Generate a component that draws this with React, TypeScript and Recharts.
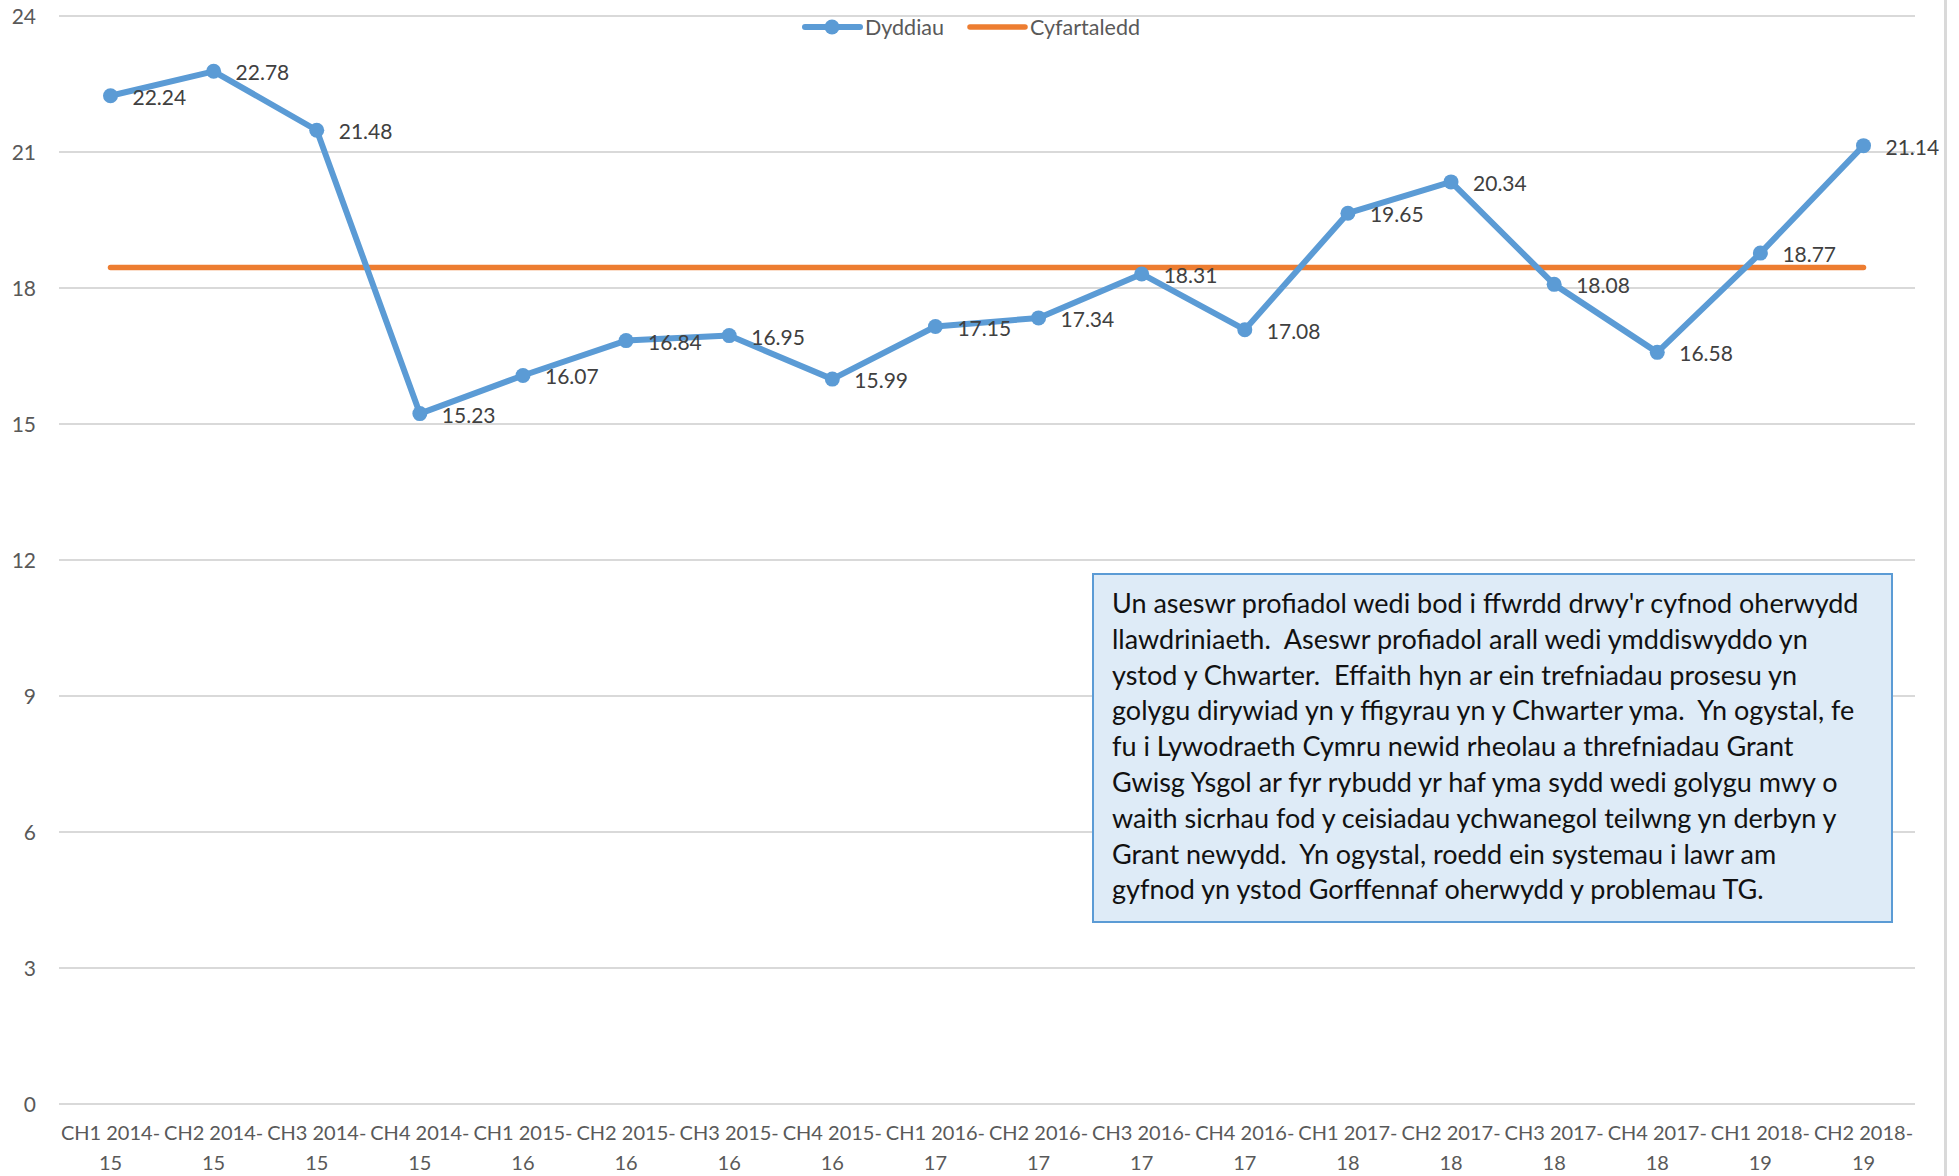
import React from "react";
import {
  LineChart,
  Line,
  XAxis,
  YAxis,
  CartesianGrid,
  LabelList,
} from "recharts";

const quarters = [
  "CH1 2014-15",
  "CH2 2014-15",
  "CH3 2014-15",
  "CH4 2014-15",
  "CH1 2015-16",
  "CH2 2015-16",
  "CH3 2015-16",
  "CH4 2015-16",
  "CH1 2016-17",
  "CH2 2016-17",
  "CH3 2016-17",
  "CH4 2016-17",
  "CH1 2017-18",
  "CH2 2017-18",
  "CH3 2017-18",
  "CH4 2017-18",
  "CH1 2018-19",
  "CH2 2018-19",
];

const days = [
  22.24, 22.78, 21.48, 15.23, 16.07, 16.84, 16.95, 15.99, 17.15, 17.34, 18.31,
  17.08, 19.65, 20.34, 18.08, 16.58, 18.77, 21.14,
];

// average line as shown in the chart
const average = [
  18.45, 18.45, 18.45, 18.45, 18.45, 18.45, 18.45, 18.45, 18.45, 18.45, 18.45,
  18.45, 18.45, 18.45, 18.45, 18.45, 18.45, 18.45,
];

const yTicks = [0, 3, 6, 9, 12, 15, 18, 21, 24];

const noteLines = [
  "Un aseswr profiadol wedi bod i ffwrdd drwy'r cyfnod oherwydd",
  "llawdriniaeth.  Aseswr profiadol arall wedi ymddiswyddo yn",
  "ystod y Chwarter.  Effaith hyn ar ein trefniadau prosesu yn",
  "golygu dirywiad yn y ffigyrau yn y Chwarter yma.  Yn ogystal, fe",
  "fu i Lywodraeth Cymru newid rheolau a threfniadau Grant",
  "Gwisg Ysgol ar fyr rybudd yr haf yma sydd wedi golygu mwy o",
  "waith sicrhau fod y ceisiadau ychwanegol teilwng yn derbyn y",
  "Grant newydd.  Yn ogystal, roedd ein systemau i lawr am",
  "gyfnod yn ystod Gorffennaf oherwydd y problemau TG.",
];

const chartData = quarters.map((q, i) => ({
  name: q,
  dyddiau: days[i],
  cyfartaledd: average[i],
}));

const FONT = "Lato, 'Open Sans', sans-serif";
const BLUE = "#5B9BD5";
const ORANGE = "#ED7D31";

const XTick = (props: any) => {
  const { x, payload } = props;
  const s: string = payload.value;
  const cut = s.indexOf("-") + 1;
  return (
    <g>
      <text x={x} y={1140} textAnchor="middle" fontSize={20} fill="#595959" fontFamily={FONT}>
        {s.slice(0, cut)}
      </text>
      <text x={x} y={1170} textAnchor="middle" fontSize={20} fill="#595959" fontFamily={FONT}>
        {s.slice(cut)}
      </text>
    </g>
  );
};

const YTick = (props: any) => {
  const { y, payload } = props;
  return (
    <text x={36} y={y + 7.5} textAnchor="end" fontSize={21} fill="#595959" fontFamily={FONT}>
      {payload.value}
    </text>
  );
};

const ValueLabel = (props: any) => {
  const { x, y, value } = props;
  return (
    <text x={x + 22} y={y + 9} fontSize={21} fill="#404040" fontFamily={FONT}>
      {value}
    </text>
  );
};

export default function App() {
  return (
    <div
      style={{
        position: "absolute",
        left: 0,
        top: 0,
        width: 1959,
        height: 1176,
        background: "#fff",
        overflow: "hidden",
      }}
    >
      <LineChart
        width={1959}
        height={1176}
        data={chartData}
        margin={{ top: 16, right: 44, bottom: 0, left: 0 }}
      >
        <CartesianGrid vertical={false} stroke="#D9D9D9" strokeWidth={2} />
        <XAxis
          dataKey="name"
          height={72}
          axisLine={false}
          tickLine={false}
          interval={0}
          padding={{ left: 51.5, right: 51.5 }}
          tick={<XTick />}
        />
        <YAxis
          width={59}
          domain={[0, 24]}
          ticks={yTicks}
          axisLine={false}
          tickLine={false}
          tick={<YTick />}
        />
        <Line
          dataKey="cyfartaledd"
          stroke={ORANGE}
          strokeWidth={5.5}
          strokeLinecap="round"
          dot={false}
          activeDot={false}
          isAnimationActive={false}
        />
        <Line
          dataKey="dyddiau"
          stroke={BLUE}
          strokeWidth={6}
          strokeLinejoin="round"
          dot={{ r: 7.5, fill: BLUE, stroke: "none" }}
          activeDot={false}
          isAnimationActive={false}
        >
          <LabelList dataKey="dyddiau" content={<ValueLabel />} />
        </Line>
      </LineChart>

      {/* legend */}
      <svg
        width={400}
        height={40}
        style={{ position: "absolute", left: 790, top: 7 }}
      >
        <line x1={15} y1={20} x2={70} y2={20} stroke={BLUE} strokeWidth={6} strokeLinecap="round" />
        <circle cx={42} cy={20} r={7.5} fill={BLUE} />
        <text x={75} y={27.5} fontSize={21.5} fill="#595959" fontFamily={FONT}>
          Dyddiau
        </text>
        <line x1={180} y1={20} x2={235} y2={20} stroke={ORANGE} strokeWidth={5.5} strokeLinecap="round" />
        <text x={240} y={27.5} fontSize={21.5} fill="#595959" fontFamily={FONT}>
          Cyfartaledd
        </text>
      </svg>

      {/* note box */}
      <div
        style={{
          position: "absolute",
          left: 1092,
          top: 573,
          width: 801,
          height: 350,
          boxSizing: "border-box",
          background: "#DEEBF7",
          border: `2px solid ${BLUE}`,
          padding: "10px 0 0 18px",
          fontFamily: FONT,
          fontSize: 27,
          lineHeight: "35.8px",
          color: "#111",
        }}
      >
        {noteLines.map((l, i) => (
          <div key={i} style={{ whiteSpace: "pre" }}>
            {l}
          </div>
        ))}
      </div>

      {/* chart outer border visible on the right */}
      <div
        style={{
          position: "absolute",
          left: 1944,
          top: 0,
          width: 3,
          height: 1176,
          background: "#D9D9D9",
        }}
      />
    </div>
  );
}
